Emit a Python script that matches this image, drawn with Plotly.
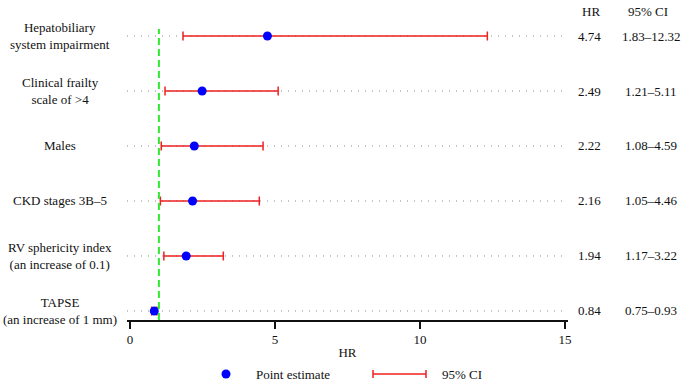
import plotly.graph_objects as go

labels = ["Hepatobiliary<br>system impairment", "Clinical frailty<br>scale of >4", "Males",
          "CKD stages 3B–5", "RV sphericity index<br>(an increase of 0.1)",
          "TAPSE<br>(an increase of 1 mm)"]
hr = [4.74, 2.49, 2.22, 2.16, 1.94, 0.84]
lo = [1.83, 1.21, 1.08, 1.05, 1.17, 0.75]
hi = [12.32, 5.11, 4.59, 4.46, 3.22, 0.93]
xticks = [0, 5, 10, 15]

n = len(labels)
ypos = [n - 1 - i for i in range(n)]

W, H = 685, 381
L, R, T, B = 127, 117, 29, 61
pw, ph = W - L - R, H - T - B

def px(x):
    return (x - L) / pw

def py(y):
    return (H - B - y) / ph

FONT = "Liberation Serif"
TXT = dict(family=FONT, size=13, color="#111")
fig = go.Figure()

shapes = []
for y in ypos:
    shapes.append(dict(type="line", xref="x domain", yref="y", x0=0, x1=1, y0=y, y1=y,
                       line=dict(color="#8a8a8a", width=1, dash="1px,6px"), layer="below"))
shapes.append(dict(type="line", xref="x", yref="y domain", x0=1, x1=1, y0=0, y1=1,
                   line=dict(color="#33e833", width=2, dash="7px,4px")))

fig.add_trace(go.Scatter(
    x=hr, y=ypos, mode="markers",
    marker=dict(color="#0000ff", size=9),
    error_x=dict(type="data", symmetric=False,
                 array=[h - m for h, m in zip(hi, hr)],
                 arrayminus=[m - l for m, l in zip(hr, lo)],
                 color="#ee2020", thickness=1.5, width=4.5),
    showlegend=False, cliponaxis=False))

ann = []
for lab, y in zip(labels, ypos):
    ann.append(dict(text=lab, xref="paper", yref="y", x=px(60), y=y, xanchor="center",
                    yanchor="middle", align="center", showarrow=False, font=TXT))
for h, l, u, y in zip(hr, lo, hi, ypos):
    ann.append(dict(text=f"{h:.2f}", xref="paper", yref="y", x=px(589), y=y,
                    xanchor="center", yanchor="middle", showarrow=False, font=TXT))
    ann.append(dict(text=f"{l:.2f}–{u:.2f}", xref="paper", yref="y", x=px(651), y=y,
                    xanchor="center", yanchor="middle", showarrow=False, font=TXT))
ann.append(dict(text="HR", xref="paper", yref="paper", x=px(591), y=py(12),
                xanchor="center", yanchor="middle", showarrow=False, font=TXT))
ann.append(dict(text="95% CI", xref="paper", yref="paper", x=px(648), y=py(12),
                xanchor="center", yanchor="middle", showarrow=False, font=TXT))

# legend
ly = 374
shapes.append(dict(type="circle", xref="paper", yref="paper", xsizemode="pixel", ysizemode="pixel",
                   xanchor=px(226), yanchor=py(ly), x0=-4.5, x1=4.5, y0=-4.5, y1=4.5,
                   fillcolor="#0000ff", line=dict(width=0)))
ann.append(dict(text="Point estimate", xref="paper", yref="paper", x=px(254), y=py(ly),
                xanchor="left", yanchor="middle", showarrow=False, font=TXT))
shapes.append(dict(type="line", xref="paper", yref="paper", x0=px(373), x1=px(426),
                   y0=py(ly), y1=py(ly), line=dict(color="#ee2020", width=1.5)))
for xx in (373, 426):
    shapes.append(dict(type="line", xref="paper", yref="paper", x0=px(xx), x1=px(xx),
                       y0=py(ly - 4), y1=py(ly + 4), line=dict(color="#ee2020", width=1.5)))
ann.append(dict(text="95% CI", xref="paper", yref="paper", x=px(440), y=py(ly),
                xanchor="left", yanchor="middle", showarrow=False, font=TXT))

fig.update_layout(
    width=W, height=H, margin=dict(l=L, r=R, t=T, b=B),
    paper_bgcolor="white", plot_bgcolor="white",
    shapes=shapes, annotations=ann, showlegend=False,
    xaxis=dict(range=[-0.1, 15.1], tickvals=xticks, ticks="outside", ticklen=7, tickwidth=2,
               tickcolor="#111", showline=True, linecolor="#111", linewidth=1.5,
               showgrid=False, zeroline=False, tickfont=TXT,
               title=dict(text="HR", font=TXT, standoff=2)),
    yaxis=dict(range=[-0.164, n - 1 + 7 / 55], showticklabels=False, showgrid=False,
               zeroline=False, showline=False, ticks=""),
)

fig.write_html("out.html", config={"displayModeBar": False},
               post_script="document.body.style.margin='0';document.body.style.overflow='hidden';")
